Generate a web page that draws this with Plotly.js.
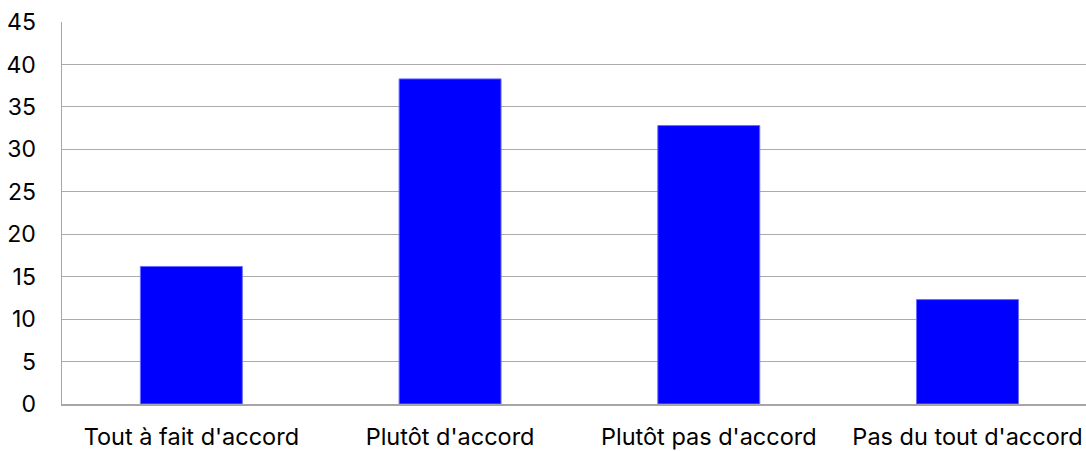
<!DOCTYPE html>
<html>
<head>
<meta charset="utf-8">
<script src="https://cdn.plot.ly/plotly-3.0.1.min.js"></script>
<style>html,body{margin:0;padding:0;background:#fff;}#chart{width:1086px;height:451px;}</style>
</head>
<body>
<div id="chart"></div>
<script>
const categories = ["Tout à fait d'accord", "Plutôt d'accord", "Plutôt pas d'accord", "Pas du tout d'accord"];
const values = [16.2, 38.3, 32.8, 12.3];
const yTicks = [0, 5, 10, 15, 20, 25, 30, 35, 40, 45];

const trace = {
  type: 'bar',
  x: categories,
  y: values,
  width: 0.394,
  marker: {color: '#0000FF', line: {color: '#6b6bff', width: 1}},
  hoverinfo: 'x+y'
};

const layout = {
  width: 1086,
  height: 451,
  margin: {l: 62, r: 0, t: 22, b: 47},
  paper_bgcolor: '#fff',
  plot_bgcolor: '#fff',
  font: {family: 'Inter, "Liberation Sans", sans-serif', size: 23, color: '#000'},
  showlegend: false,
  xaxis: {
    type: 'category',
    range: [-0.5, 3.458],
    showgrid: false,
    showline: true,
    linecolor: '#a6a6a6',
    linewidth: 1.5,
    ticks: '',
    ticklabelstandoff: 11,
    tickfont: {size: 23.5}
  },
  yaxis: {
    range: [0, 45],
    tickvals: yTicks,
    showgrid: true,
    gridcolor: '#ababab',
    gridwidth: 1.2,
    showline: true,
    linecolor: '#a6a6a6',
    linewidth: 1.5,
    zeroline: false,
    ticks: '',
    ticklabelstandoff: 20,
    tickfont: {size: 23}
  }
};

Plotly.newPlot('chart', [trace], layout, {displayModeBar: false, staticPlot: true});
</script>
</body>
</html>
